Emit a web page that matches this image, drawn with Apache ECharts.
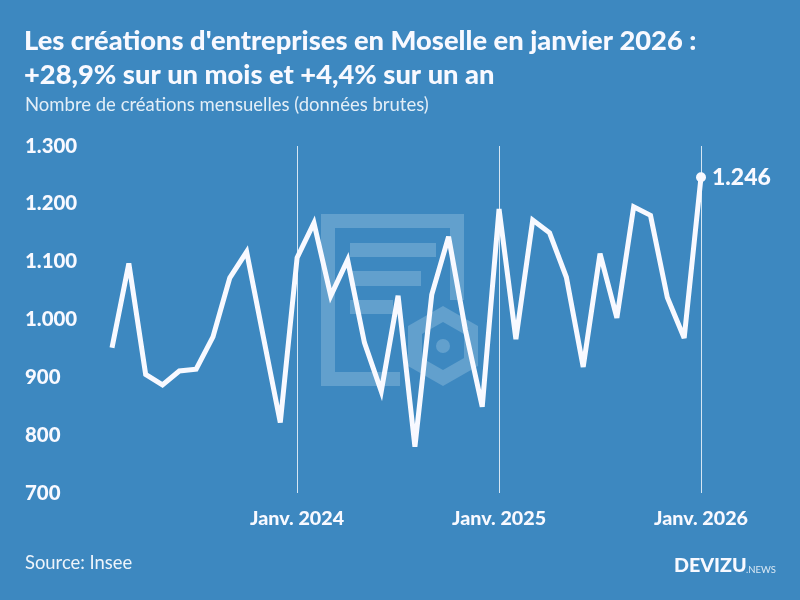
<!DOCTYPE html>
<html><head><meta charset="utf-8">
<style>html,body{margin:0;padding:0;background:#3d88c0}#c{width:800px;height:600px}</style>
<script src="https://cdn.jsdelivr.net/npm/echarts@6/dist/echarts.min.js"></script>
</head><body><div id="c"></div>
<script>
const titleLines = ["Les créations d'entreprises en Moselle en janvier 2026 :", "+28,9% sur un mois et +4,4% sur un an"];
const subtitle = "Nombre de créations mensuelles (données brutes)";
const source = "Source: Insee";
const months = ["2023-02","2023-03","2023-04","2023-05","2023-06","2023-07","2023-08","2023-09","2023-10","2023-11","2023-12",
"2024-01","2024-02","2024-03","2024-04","2024-05","2024-06","2024-07","2024-08","2024-09","2024-10","2024-11","2024-12",
"2025-01","2025-02","2025-03","2025-04","2025-05","2025-06","2025-07","2025-08","2025-09","2025-10","2025-11","2025-12","2026-01"];
const values = [951,1097,905,887,911,914,970,1072,1117,969,822,1107,1167,1041,1103,960,876,1041,780,1043,1143,982,849,1191,966,1172,1150,1073,918,1114,1003,1195,1180,1038,968,1246];
const yearLabels = {"2024-01":"Janv. 2024","2025-01":"Janv. 2025","2026-01":"Janv. 2026"};
const fmt = v => v >= 1000 ? Math.floor(v/1000) + "." + String(v%1000).padStart(3,"0") : String(v);
const WHITE = "#f8f9ff", WM = "#62a0cd", FONT = "Lato, 'Open Sans', sans-serif";
const rect = (x,y,w,h) => ({type:"rect",silent:true,z:0,shape:{x,y,width:w,height:h},style:{fill:WM}});
const chart = echarts.init(document.getElementById("c"), null, {renderer:"canvas"});
chart.setOption({
  backgroundColor:"#3d88c0", animation:false,
  textStyle:{fontFamily:FONT},
  grid:{left:112,right:99,top:146,bottom:107,containLabel:false},
  xAxis:{type:"category",data:months,boundaryGap:false,
    axisLine:{show:false},axisTick:{show:false},
    axisLabel:{interval:(i,v)=>!!yearLabels[v],formatter:v=>yearLabels[v]||"",color:WHITE,fontWeight:900,fontSize:19.7,margin:16,fontFamily:FONT,hideOverlap:false,showMaxLabel:true},
    splitLine:{show:true,interval:(i,v)=>!!yearLabels[v],lineStyle:{color:"#d5e6f3",width:1}}},
  yAxis:{type:"value",min:700,max:1300,interval:100,
    axisLine:{show:false},axisTick:{show:false},splitLine:{show:false},
    axisLabel:{formatter:fmt,color:WHITE,fontWeight:900,fontSize:20.4,align:"left",margin:87,padding:[3,0,0,0],fontFamily:FONT}},
  series:[{type:"line",z:5,
    data:values.map((v,i)=> i===values.length-1
      ? {value:v,symbol:"circle",symbolSize:10,itemStyle:{color:WHITE},
         label:{show:true,position:"right",distance:6,padding:[3,0,0,0],formatter:p=>fmt(p.value),color:WHITE,fontWeight:900,fontSize:23,fontFamily:FONT}}
      : {value:v,symbol:"none"}),
    showSymbol:true,lineStyle:{color:WHITE,width:5,join:"miter",miterLimit:4,cap:"butt"},itemStyle:{color:WHITE}}],
  graphic:[
    {type:"polyline",silent:true,z:0,shape:{points:[[328,379],[328,221],[457,221],[457,300]]},style:{stroke:WM,fill:null,lineWidth:14}},
    rect(321,372,79,14),rect(350,243,86,14),rect(350,271,71,15),rect(350,300,43,14),
    {type:"polygon",silent:true,z:0,shape:{points:[[443,314],[471,330],[471,362],[443,378],[415,362],[415,330]]},style:{stroke:WM,fill:null,lineWidth:14}},
    {type:"circle",silent:true,z:0,shape:{cx:443,cy:346,r:7},style:{fill:WM}},
    {type:"text",z:10,left:24,top:28,style:{text:titleLines[0],fill:WHITE,font:"900 27.3px "+FONT}},
    {type:"text",z:10,left:24,top:62,style:{text:titleLines[1],fill:WHITE,font:"900 27.3px "+FONT}},
    {type:"text",z:10,left:25,top:96,style:{text:subtitle,fill:"#e3eef7",font:"400 18.5px "+FONT}},
    {type:"text",z:10,left:25,top:554,style:{text:source,fill:"#eef4fa",font:"400 18.4px "+FONT}},
    {type:"text",z:10,left:674,top:556,style:{text:"DEVIZU",fill:WHITE,font:"900 19.7px "+FONT}},
    {type:"text",z:10,left:746,top:565,style:{text:".NEWS",fill:"#dbe9f4",font:"400 9.5px "+FONT}}
  ]
});
</script></body></html>
